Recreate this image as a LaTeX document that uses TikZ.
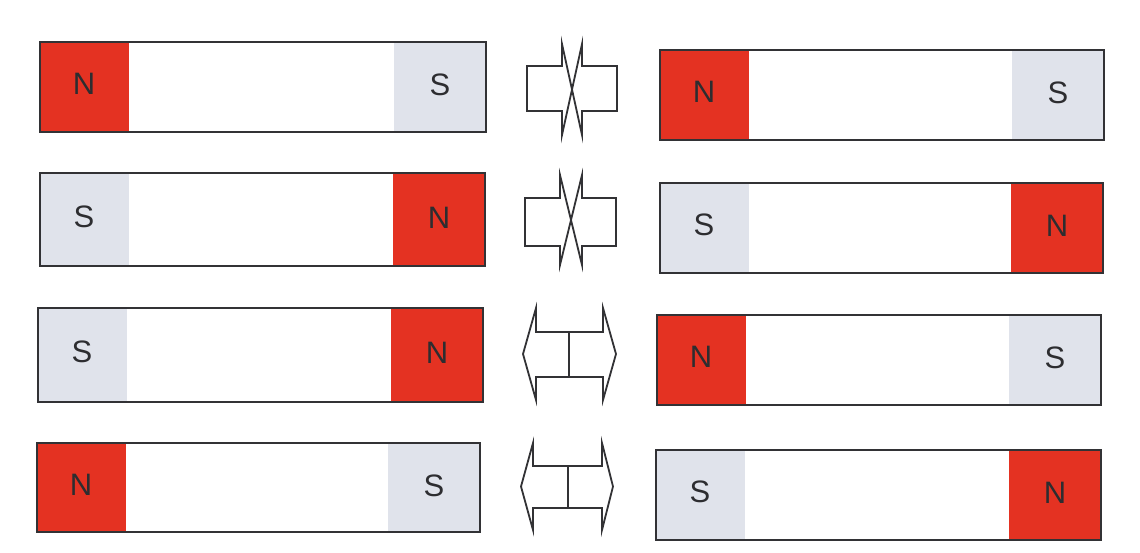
\documentclass[tikz,border=0pt]{standalone}
\usepackage{fontspec}
\setmainfont{Liberation Sans}
\definecolor{magred}{RGB}{228,50,34}
\definecolor{sgray}{RGB}{224,227,235}
\definecolor{edge}{RGB}{50,50,53}
\definecolor{ink}{RGB}{45,45,48}
\tikzset{
  fillN/.style={fill=magred},
  fillS/.style={fill=sgray},
  lbl/.style={inner sep=0pt, text=ink, font=\fontsize{31}{31}\selectfont},
  border/.style={draw=edge, line width=1.7pt},
  arrowline/.style={draw=edge, line width=1.8pt, line join=miter, fill=white}
}
% magnet: x1, y1, x2, y2, left pole, right pole, name
\newcommand\barmagnet[7]{%
  \fill[fill#5] (#1,#2) rectangle ({#1+89},#4);
  \fill[fill#6] ({#3-92},#2) rectangle (#3,#4);
  \node[lbl] (#7L) at ({#1+44},{(#2+#4)/2-3}) {#5};
  \node[lbl] (#7R) at ({#3-46},{(#2+#4)/2-2}) {#6};
  \draw[border] (#1,#2) rectangle (#3,#4);}
% repel sign: left outer x, left notch x, right notch x, right outer x, spike top, rect top, rect bottom, spike bottom
\newcommand\repelsign[8]{%
  \draw[arrowline] (#2,#8)--(#2,#7)--(#1,#7)--(#1,#6)--(#2,#6)--(#2,#5)
     --(#3,#8)--(#3,#7)--(#4,#7)--(#4,#6)--(#3,#6)--(#3,#5)--cycle;}
% attract sign: left tip x, left base x, middle x, right base x, right tip x, spike top, rect top, rect bottom, spike bottom
\newcommand\attractsign[9]{%
  \draw[arrowline] (#2,#7)--(#2,#6)--(#1,{(#6+#9)/2})--(#2,#9)--(#2,#8)--(#4,#8)
     --(#4,#9)--(#5,{(#6+#9)/2})--(#4,#6)--(#4,#7)--cycle;
  \draw[arrowline] (#3,#7)--(#3,#8);}
\begin{document}
\begin{tikzpicture}[x=1pt,y=-1pt]
\fill[white] (0,0) rectangle (1140,553);
\useasboundingbox (0,0) rectangle (1140,553);
% left column
\barmagnet{40}{42}{486}{132}{N}{S}{a1}
\barmagnet{40}{173}{485}{266}{S}{N}{a2}
\barmagnet{38}{308}{483}{402}{S}{N}{a3}
\barmagnet{37}{443}{480}{532}{N}{S}{a4}
% right column
\barmagnet{660}{50}{1104}{140}{N}{S}{b1}
\barmagnet{660}{183}{1103}{273}{S}{N}{b2}
\barmagnet{657}{315}{1101}{405}{N}{S}{b3}
\barmagnet{656}{450}{1101}{540}{S}{N}{b4}
% interaction signs
\repelsign{527}{562}{582}{617}{44}{66}{111}{135}
\repelsign{525}{560}{582}{616}{175}{198}{246}{265}
\attractsign{523}{536}{569}{603}{616}{308}{332}{377}{400}
\attractsign{521}{533}{568}{602}{613}{443}{466}{508}{530}
\end{tikzpicture}
\end{document}
